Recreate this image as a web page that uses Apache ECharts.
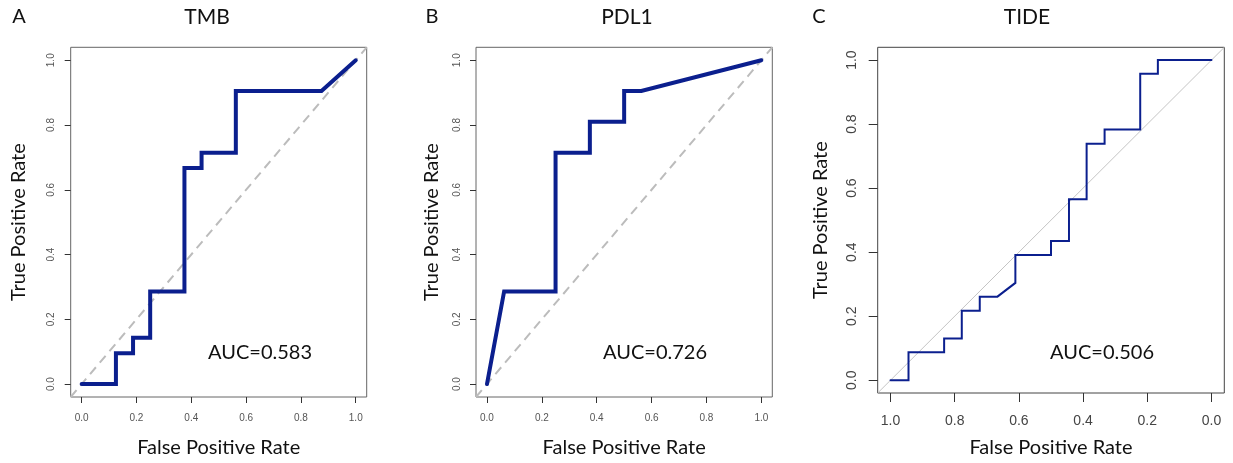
<!DOCTYPE html>
<html>
<head>
<meta charset="utf-8">
<script src="https://cdn.jsdelivr.net/npm/echarts@6/dist/echarts.min.js"></script>
<style>
html,body{margin:0;padding:0;background:#fff;}
#chart{width:1233px;height:463px;}
</style>
</head>
<body>
<div id="chart"></div>
<script>
// ---- data ----
const panelTitles = ['TMB', 'PDL1', 'TIDE'];
const panelLetters = ['A', 'B', 'C'];
const aucLabels = ['AUC=0.583', 'AUC=0.726', 'AUC=0.506'];
const tickValues = [0, 0.2, 0.4, 0.6, 0.8, 1.0];
const axisRange = [-0.04, 1.04];

const tmbFpr = [0, 0.125, 0.125, 0.1875, 0.1875, 0.25, 0.25, 0.375, 0.375, 0.4375, 0.4375, 0.5625, 0.5625, 0.875, 1];
const tmbTpr = [0, 0, 0.095, 0.095, 0.143, 0.143, 0.286, 0.286, 0.667, 0.667, 0.714, 0.714, 0.905, 0.905, 1];

const pdl1Fpr = [0, 0.0625, 0.25, 0.25, 0.375, 0.375, 0.5, 0.5, 0.5625, 1];
const pdl1Tpr = [0, 0.286, 0.286, 0.714, 0.714, 0.81, 0.81, 0.905, 0.905, 1];

const tideSpec = [1, 0.944, 0.944, 0.833, 0.833, 0.778, 0.778, 0.722, 0.722, 0.667, 0.611, 0.611, 0.5, 0.5, 0.444, 0.444, 0.389, 0.389, 0.333, 0.333, 0.222, 0.222, 0.167, 0.167, 0];
const tideSens = [0, 0, 0.087, 0.087, 0.130, 0.130, 0.217, 0.217, 0.261, 0.261, 0.304, 0.391, 0.391, 0.435, 0.435, 0.565, 0.565, 0.739, 0.739, 0.783, 0.783, 0.957, 0.957, 1, 1];

// ---- build ----
const zip = (a, b) => a.map((v, i) => [v, b[i]]);
const diagUp = [[axisRange[0], axisRange[0]], [axisRange[1], axisRange[1]]];
// panel C: x axis is reversed, so the chance line runs from x=max,y=min to x=min,y=max
const diagRev = [[axisRange[1], axisRange[0]], [axisRange[0], axisRange[1]]];
const curveColor = '#0b1f8e';
const fontMain = 'Lato, "Noto Sans", sans-serif';
const fontTick = '"Liberation Sans", Arial, sans-serif';

const grids = [
  {left: 70.7, top: 47.3, width: 296, height: 351},
  {left: 476, top: 47.3, width: 296.3, height: 351},
  {left: 877.7, top: 47.3, width: 346.6, height: 346}
];
const styles = [
  {tickFs: 10, tickLen: 6, xMargin: 16, yMargin: 14, tickColor: '#555', xNameGap: 41, yNameGap: 42, lw: 4, diagDash: true},
  {tickFs: 10, tickLen: 6, xMargin: 16, yMargin: 14, tickColor: '#555', xNameGap: 41, yNameGap: 34, lw: 4, diagDash: true},
  {tickFs: 14, tickLen: 9, xMargin: 21, yMargin: 19, tickColor: '#444', xNameGap: 45, yNameGap: 47, lw: 2, diagDash: false}
];

const fmt = v => v.toFixed(1);

function axis(i, isX) {
  const s = styles[i];
  return {
    type: 'value',
    gridIndex: i,
    position: isX ? 'bottom' : 'left',
    min: axisRange[0],
    max: axisRange[1],
    inverse: isX && i === 2,
    name: isX ? 'False Positive Rate' : 'True Positive Rate',
    nameLocation: 'middle',
    nameGap: isX ? s.xNameGap : s.yNameGap,
    nameTextStyle: {fontFamily: fontMain, fontSize: 20, color: '#111'},
    axisLine: {show: false, onZero: false},
    splitLine: {show: false},
    axisTick: {show: true, inside: false, customValues: tickValues, length: s.tickLen, lineStyle: {color: '#333', width: 1}},
    axisLabel: {
      show: true, customValues: tickValues, formatter: fmt,
      fontFamily: fontTick, fontSize: s.tickFs, color: s.tickColor,
      margin: isX ? s.xMargin : s.yMargin, rotate: isX ? 0 : 90
    }
  };
}

const xAxes = [0, 1, 2].map(i => axis(i, true));
const yAxes = [0, 1, 2].map(i => axis(i, false));

const curves = [zip(tmbFpr, tmbTpr), zip(pdl1Fpr, pdl1Tpr), zip(tideSpec, tideSens)];
const diagonals = [diagUp, diagUp, diagRev];

const series = [];
[0, 1, 2].forEach(i => {
  series.push({
    type: 'line', xAxisIndex: i, yAxisIndex: i, data: diagonals[i],
    showSymbol: false, silent: true, z: 1,
    lineStyle: styles[i].diagDash
      ? {color: '#bcbcbc', width: 2, type: [9, 6]}
      : {color: '#c4c4c4', width: 1, type: 'solid'}
  });
  series.push({
    type: 'line', xAxisIndex: i, yAxisIndex: i, data: curves[i],
    showSymbol: false, z: 3,
    lineStyle: {color: curveColor, width: styles[i].lw, cap: 'round', join: 'miter'}
  });
});

const textCenters = [207, 627, 1027];
const letterX = [19, 432, 819];
const aucCenters = [260, 655, 1102];
const graphic = [];
[0, 1, 2].forEach(i => {
  graphic.push({type: 'text', x: textCenters[i], y: 17, style: {text: panelTitles[i], font: '21px ' + fontMain, fill: '#111', align: 'center', verticalAlign: 'middle'}});
  graphic.push({type: 'text', x: letterX[i], y: 17, style: {text: panelLetters[i], font: '20px ' + fontMain, fill: '#111', align: 'center', verticalAlign: 'middle'}});
  graphic.push({type: 'text', x: aucCenters[i], y: 353, style: {text: aucLabels[i], font: '20px ' + fontMain, fill: '#111', align: 'center', verticalAlign: 'middle'}});
});

const chart = echarts.init(document.getElementById('chart'), null, {renderer: 'canvas'});
chart.setOption({
  animation: false,
  backgroundColor: '#fff',
  grid: grids.map((g, i) => Object.assign({show: true, borderColor: i === 2 ? '#444' : '#666', borderWidth: 1, backgroundColor: 'transparent', containLabel: false}, g)),
  xAxis: xAxes,
  yAxis: yAxes,
  series: series,
  graphic: graphic
});
</script>
</body>
</html>
